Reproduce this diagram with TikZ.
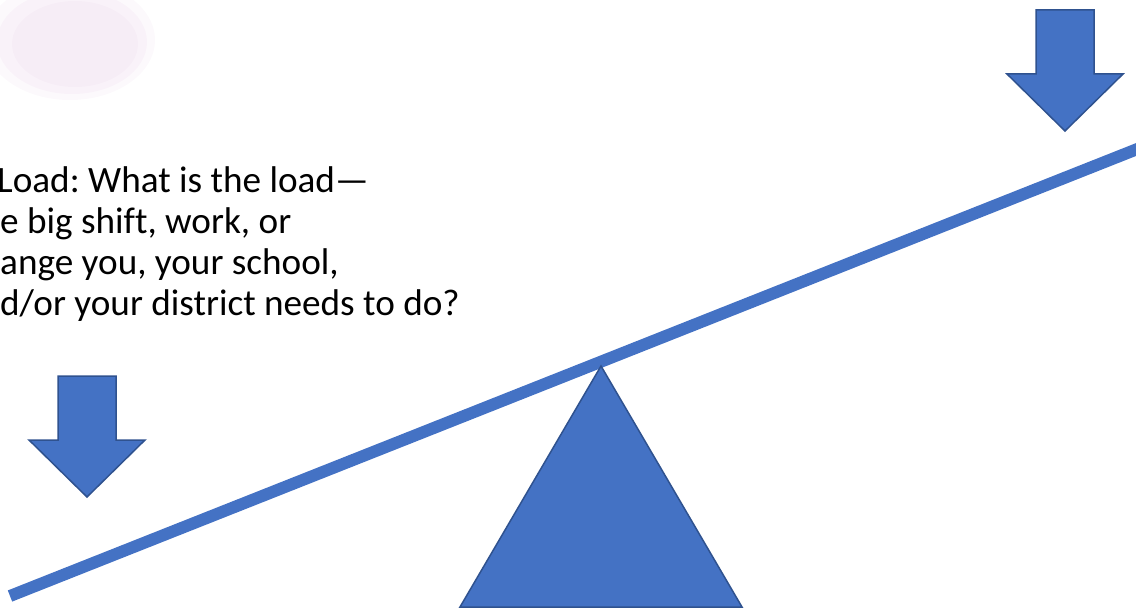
\documentclass[tikz,border=0pt]{standalone}
\usepackage{fontspec}
\setmainfont[Ligatures={NoCommon}]{Carlito}
\definecolor{officeblue}{HTML}{4472C4}
\definecolor{officeedge}{HTML}{2F528F}
\definecolor{blush}{HTML}{F3E6F3}
\frenchspacing
\begin{document}
\begin{tikzpicture}[x=1pt,y=-1pt,
  shapefill/.style={fill=officeblue,draw=officeedge,line width=1.5pt,line join=miter},
  beam/.style={draw=officeblue,line width=12pt,line cap=butt},
  loadtext/.style={anchor=base west,inner sep=0pt,font=\fontsize{37.2}{41}\selectfont}]
\useasboundingbox (0,0) rectangle (1136,610);
% faint smudge top-left
\begin{scope}
\clip (0,0) rectangle (1136,610);
\fill[blush,opacity=0.25] (70,40) ellipse [x radius=85, y radius=60];
\fill[blush,opacity=0.35] (72,42) ellipse [x radius=75, y radius=52];
\fill[blush,opacity=0.45] (75,44) ellipse [x radius=63, y radius=43];
\end{scope}
% text
\node[loadtext] (t1) at (-3,192) {Load: What is the load—};
\node[loadtext] (t2) at (0,233) {e big shift, work, or};
\node[loadtext] (t3) at (0,274) {ange you, your school,};
\node[loadtext] (t4) at (0,315) {d/or your district needs to do?};
% beam
\coordinate (bl) at (10,596);
\coordinate (br) at (1150,144);
\draw[beam] (bl) -- (br);
% fulcrum
\coordinate (apex) at (601,366);
\coordinate (basel) at (460,607);
\coordinate (baser) at (742,607);
\draw[shapefill] (apex) -- (baser) -- (basel) -- cycle;
% right arrow
\draw[shapefill] (1036,10) -- (1094,10) -- (1094,74) -- (1123,74) -- (1065,131) -- (1007,74) -- (1036,74) -- cycle;
% left arrow
\draw[shapefill] (58,376) -- (116,376) -- (116,440) -- (145,440) -- (87,497) -- (29,440) -- (58,440) -- cycle;
\end{tikzpicture}
\end{document}
